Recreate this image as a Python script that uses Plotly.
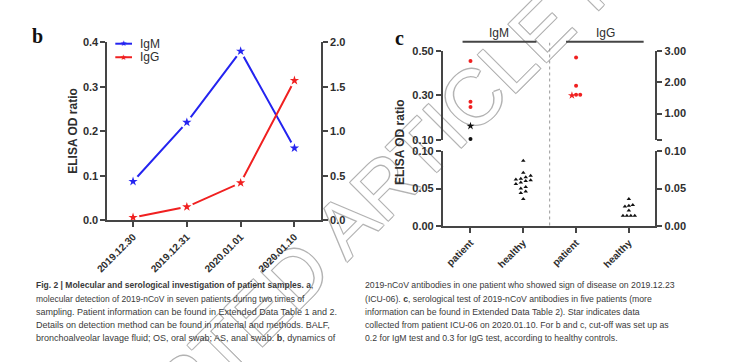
import plotly.graph_objects as go

# ---------------- data ----------------
dates = ["2019.12.30", "2019.12.31", "2020.01.01", "2020.01.10"]
igm_dyn = [0.087, 0.220, 0.380, 0.162]      # left axis
igg_dyn = [0.03, 0.15, 0.42, 1.57]          # right axis

groups = ["patient", "healthy", "patient", "healthy"]
igm_patient = [0.456, 0.272, 0.248, 0.103]
igm_icu06 = 0.162
igg_patient = [2.80, 1.89, 1.60, 1.60]
igg_icu06 = 1.58
igm_healthy = [0.087, 0.071, 0.067, 0.065, 0.063, 0.062, 0.061, 0.060,
               0.058, 0.056, 0.052, 0.050, 0.046, 0.044, 0.036]
igg_healthy = [0.036, 0.028, 0.027, 0.026, 0.021, 0.014, 0.014, 0.014, 0.014]
igm_cutoff = 0.2
igg_cutoff = 0.3

caption_left = [
    "<b>Fig. 2 | Molecular and serological investigation of patient samples. a</b>,",
    "molecular detection of 2019-nCoV in seven patients during two times of",
    "sampling. Patient information can be found in Extended Data Table 1 and 2.",
    "Details on detection method can be found in material and methods. BALF,",
    "bronchoalveolar lavage fluid; OS, oral swab; AS, anal swab. <b>b</b>, dynamics of",
]
caption_right = [
    "2019-nCoV antibodies in one patient who showed sign of disease on 2019.12.23",
    "(ICU-06). <b>c</b>, serological test of 2019-nCoV antibodies in five patients (more",
    "information can be found in Extended Data Table 2). Star indicates data",
    "collected from patient ICU-06 on 2020.01.10. For b and c, cut-off was set up as",
    "0.2 for IgM test and 0.3 for IgG test, according to healthy controls.",
]

# ---------------- layout helpers ----------------
W, H = 742, 362
def px(x): return x / W
def py(y): return 1 - y / H

AX = "#454545"
TXT = "#2e2e2e"
SANS = "Liberation Sans, Arial, sans-serif"
BLUE = "#2424f0"
RED = "#f02020"

b_xdom = [px(97), px(314)]
b_ydom = [py(221.5), py(37.5)]
c_xdom = [px(438), px(654)]
c_top = [py(138.3), py(46.7)]
c_bot = [py(227.7), py(150)]
c_xrange = [-0.522, 3.503]
c_xppu = 216 / (c_xrange[1] - c_xrange[0])

def swarm(vals, ppu, row_px=4.5, col_px=5.0):
    order = sorted(range(len(vals)), key=lambda i: vals[i])
    rows = []
    for i in order:
        if rows and (vals[i] - vals[rows[-1][0]]) * ppu < row_px:
            rows[-1].append(i)
        else:
            rows.append([i])
    off = [0.0] * len(vals)
    for r in rows:
        n = len(r)
        for k, i in enumerate(r):
            off[i] = (k - (n - 1) / 2) * col_px / c_xppu
    return off

fig = go.Figure()

# ---------------- panel b ----------------
for vals, col, ya in [(igm_dyn, BLUE, "y"), (igg_dyn, RED, "y2")]:
    fig.add_trace(go.Scatter(x=dates, y=vals, mode="lines", xaxis="x", yaxis=ya,
                             line=dict(color=col, width=2), showlegend=False,
                             hoverinfo="skip", cliponaxis=False))
    fig.add_trace(go.Scatter(x=dates, y=vals, mode="markers", xaxis="x", yaxis=ya,
                             marker=dict(symbol="circle", size=13, color="white"),
                             showlegend=False, hoverinfo="skip", cliponaxis=False))
    fig.add_trace(go.Scatter(x=dates, y=vals, mode="markers", xaxis="x", yaxis=ya,
                             marker=dict(symbol="star", size=7, color=col,
                                         line=dict(width=0)),
                             showlegend=False, cliponaxis=False))

# ---------------- panel c ----------------
def add_patient(vals, icu, cutoff, xc, ya, ppu):
    allv = vals + [icu]
    off = swarm(allv, ppu, row_px=3.0, col_px=4.2)
    xs = [xc + o for o in off]
    cols = [RED if v > cutoff else "#111111" for v in allv]
    n = len(vals)
    fig.add_trace(go.Scatter(x=xs[:n], y=allv[:n], mode="markers", xaxis="x2", yaxis=ya,
                             marker=dict(symbol="circle", size=4, color=cols[:n]),
                             showlegend=False, cliponaxis=False))
    fig.add_trace(go.Scatter(x=xs[n:], y=allv[n:], mode="markers", xaxis="x2", yaxis=ya,
                             marker=dict(symbol="star", size=6, color=cols[n:]),
                             showlegend=False, cliponaxis=False))

def add_healthy(vals, xc, ya, ppu, row_px, col_px):
    off = swarm(vals, ppu, row_px, col_px)
    fig.add_trace(go.Scatter(x=[xc + o for o in off], y=vals, mode="markers",
                             xaxis="x2", yaxis=ya,
                             marker=dict(symbol="triangle-up", size=4, color="#111111"),
                             showlegend=False, cliponaxis=False))

top_h = 138.3 - 46.7
bot_h = 227.7 - 150
add_patient(igm_patient, igm_icu06, igm_cutoff, 0, "y3", top_h / 0.4)
add_patient(igg_patient, igg_icu06, igg_cutoff, 2, "y4", top_h / (3.0 - 0.16))
add_healthy(igm_healthy, 1, "y5", bot_h / 0.1, 4.5, 5.0)
add_healthy(igg_healthy, 3, "y6", bot_h / 0.1, 3.2, 4.0)

tickfont = dict(family=SANS, size=11, color=TXT, weight="bold")
xtickfont = dict(family=SANS, size=10, color=TXT, weight="bold")
common = dict(showline=True, linecolor=AX, linewidth=2, ticks="outside",
              ticklen=5, tickwidth=1.8, tickcolor=AX, showgrid=False,
              zeroline=False, fixedrange=True)

fig.update_layout(
    width=W, height=H, margin=dict(l=0, r=0, t=0, b=0),
    paper_bgcolor="white", plot_bgcolor="rgba(0,0,0,0)",
    showlegend=False,
    xaxis=dict(domain=b_xdom, anchor="y", range=[-0.476, 3.492], type="category",
               tickangle=-45, tickfont=xtickfont, **common),
    yaxis=dict(domain=b_ydom, anchor="x", range=[0, 0.4], tickfont=tickfont,
               tickvals=[0, 0.1, 0.2, 0.3, 0.4], tickformat=".1f", **common),
    yaxis2=dict(overlaying="y", side="right", anchor="x", range=[0, 2], tickfont=tickfont,
                tickvals=[0, 0.5, 1.0, 1.5, 2.0], tickformat=".1f", **common),
    xaxis2=dict(domain=c_xdom, anchor="y5", range=c_xrange,
                tickvals=[0, 1, 2, 3], ticktext=groups, tickangle=-45,
                tickfont=xtickfont, **common),
    yaxis3=dict(domain=c_top, anchor="x2", range=[0.1, 0.5], tickfont=tickfont,
                tickvals=[0.1, 0.3, 0.5], tickformat=".2f", **common),
    yaxis4=dict(overlaying="y3", side="right", anchor="x2", range=[0.16, 3.0],
                tickfont=tickfont, tickvals=[0.16, 1, 2, 3],
                ticktext=["", "1.00", "2.00", "3.00"], **common),
    yaxis5=dict(domain=c_bot, anchor="x2", range=[0, 0.1], tickfont=tickfont,
                tickvals=[0, 0.05, 0.1], tickformat=".2f", **common),
    yaxis6=dict(overlaying="y5", side="right", anchor="x2", range=[0, 0.1],
                tickfont=tickfont, tickvals=[0, 0.05, 0.1], tickformat=".2f", **common),
)

shapes = [
    # watermark
    dict(type="rect", xref="paper", yref="paper", x0=px(411), x1=px(413),
         y0=py(143), y1=py(141), line=dict(width=0), fillcolor="rgba(0,0,0,0)",
         layer="below",
         label=dict(text="ACCEPTED ARTICLE PREVIEW", textangle=-45,
                    textposition="middle center",
                    font=dict(family=SANS, size=78, color="white",
                              shadow="1px 1px 0 #b3b3b3, -1px -1px 0 #b3b3b3, 1px -1px 0 #b3b3b3, -1px 1px 0 #b3b3b3"))),
    # group bars
    dict(type="line", xref="x2", yref="paper", x0=-0.15, x1=1.25, y0=py(37), y1=py(37),
         line=dict(color=AX, width=2)),
    dict(type="line", xref="x2", yref="paper", x0=1.81, x1=3.28, y0=py(37), y1=py(37),
         line=dict(color=AX, width=2)),
    # divider
    dict(type="line", xref="x2", yref="paper", x0=1.5, x1=1.5, y0=py(227), y1=py(38),
         line=dict(color="#9a9a9a", width=1, dash="dot")),
    # legend samples
    dict(type="line", xref="paper", yref="paper", x0=px(105), x1=px(122), y0=py(39), y1=py(39),
         line=dict(color=BLUE, width=2)),
    dict(type="line", xref="paper", yref="paper", x0=px(105), x1=px(122), y0=py(53), y1=py(53),
         line=dict(color=RED, width=2)),
]
fig.update_layout(shapes=shapes)

ann = [
    dict(text="<b>b</b>", x=px(26), y=py(31), font=dict(family="Liberation Serif, Times New Roman, serif", size=20, color="#111")),
    dict(text="<b>c</b>", x=px(394), y=py(33), font=dict(family="Liberation Serif, Times New Roman, serif", size=20, color="#111")),
    dict(text="ELISA OD ratio", x=px(62), y=py(129), textangle=-90,
         font=dict(family=SANS, size=12, color=TXT, weight="bold")),
    dict(text="ELISA OD ratio", x=px(395), y=py(141), textangle=-90,
         font=dict(family=SANS, size=12, color=TXT, weight="bold")),
    dict(text="IgM", x=px(495), y=py(28), font=dict(family=SANS, size=12, color=TXT)),
    dict(text="IgG", x=px(603), y=py(28), font=dict(family=SANS, size=12, color=TXT)),
    # legend
    dict(text="★", x=px(113.5), y=py(39), font=dict(family="DejaVu Sans", size=8, color=BLUE)),
    dict(text="★", x=px(113.5), y=py(53), font=dict(family="DejaVu Sans", size=8, color=RED)),
]
for a in ann:
    a.update(xref="paper", yref="paper", showarrow=False, xanchor="center", yanchor="middle")
ann.append(dict(text="IgM", x=px(128), y=py(39), xref="paper", yref="paper", showarrow=False,
                xanchor="left", yanchor="middle", font=dict(family=SANS, size=12, color=TXT)))
ann.append(dict(text="IgG", x=px(128), y=py(53), xref="paper", yref="paper", showarrow=False,
                xanchor="left", yanchor="middle", font=dict(family=SANS, size=12, color=TXT)))

line_y = [289, 302.7, 316.3, 330, 343.6]
for i, t in enumerate(caption_left):
    ann.append(dict(text=t, x=px(22), y=py(line_y[i]), xref="paper", yref="paper",
                    showarrow=False, xanchor="left", yanchor="middle",
                    font=dict(family=SANS, size=8.5 if i < 2 else 9, color="#3a3a3a")))
for i, t in enumerate(caption_right):
    ann.append(dict(text=t, x=px(357), y=py(line_y[i]), xref="paper", yref="paper",
                    showarrow=False, xanchor="left", yanchor="middle",
                    font=dict(family=SANS, size=8.7, color="#3a3a3a")))
fig.update_layout(annotations=ann)

fig.write_html("out.html", config={"displayModeBar": False},
               post_script="document.body.style.margin='0';document.body.style.padding='0';")
